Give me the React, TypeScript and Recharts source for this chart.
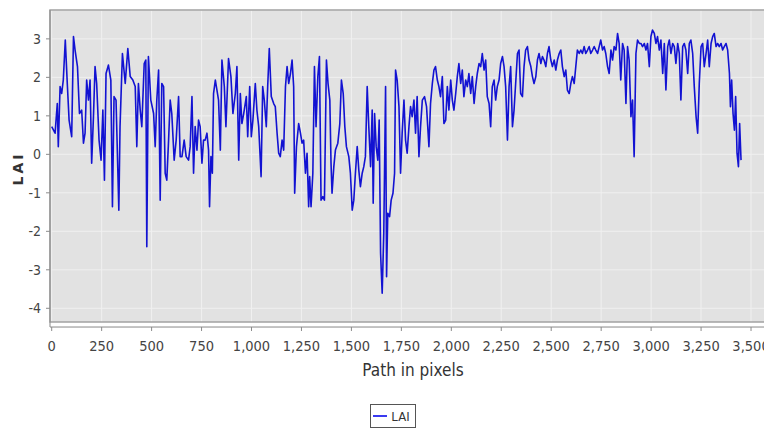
import {
  LineChart,
  Line,
  XAxis,
  YAxis,
  CartesianGrid,
  ReferenceArea,
  Legend,
} from "recharts";

// distance along the path (pixels) and the LAI value sampled there
const pathPx = [
  0, 17, 28, 33, 42, 50, 58, 68, 78, 87,
  100, 109, 117, 129, 139, 150, 159, 167, 175, 184,
  192, 200, 209, 217, 225, 237, 247, 256, 264, 272,
  284, 296, 304, 312, 322, 336, 342, 354, 368, 381,
  393, 406, 418, 426, 434, 443, 451, 463, 471, 476,
  484, 496, 510, 518, 526, 535,
  543, 551, 560, 568, 576, 585, 593, 601, 613, 623,
  635, 643, 652, 663, 673, 685, 693, 702, 710, 718,
  727, 735, 743, 752, 760, 768, 777, 785, 790, 797,
  804, 810, 819, 827, 835, 844, 852, 864, 872, 885,
  897, 907, 919, 927, 936, 944, 952, 961, 974, 981,
  991, 999, 1007, 1019, 1027, 1036, 1048, 1056, 1064, 1074,
  1081, 1089, 1099, 1111, 1119, 1128, 1136,
  1144, 1153, 1161, 1170, 1178, 1186, 1195, 1203, 1211, 1216,
  1225, 1236, 1245, 1253, 1261, 1270, 1278, 1286, 1291, 1298,
  1307, 1315, 1323, 1332, 1340, 1348, 1357, 1365, 1375, 1383,
  1392, 1398, 1403, 1412, 1420, 1432, 1442, 1450, 1459, 1467,
  1475, 1487, 1495, 1504, 1512, 1520, 1529, 1537, 1545, 1554,
  1562, 1570, 1579, 1587, 1596, 1604, 1609, 1616, 1624, 1632,
  1639, 1646, 1654, 1662, 1671, 1676, 1682, 1691, 1699, 1708,
  1716, 1721, 1729, 1738,
  1746, 1754, 1763, 1771, 1779, 1788, 1796, 1804, 1813, 1821,
  1829, 1838, 1846, 1855, 1866, 1876, 1888, 1896, 1905, 1913,
  1921, 1930, 1938, 1946, 1955, 1963, 1972, 1980, 1988, 1997,
  2005, 2013, 2022, 2030, 2038, 2047, 2055, 2063, 2072, 2080,
  2088, 2097, 2105, 2114, 2122, 2130, 2139, 2147, 2155, 2164,
  2172, 2180, 2189, 2197, 2205, 2214, 2222, 2230, 2239, 2247,
  2256, 2264, 2272, 2281, 2289, 2297, 2306, 2314, 2322, 2331,
  2339,
  2347, 2356, 2364, 2372, 2381, 2389, 2398, 2406, 2414, 2423,
  2431, 2439, 2448, 2456, 2464, 2473, 2481, 2489, 2498, 2506,
  2515, 2523, 2531, 2540, 2548, 2556, 2565, 2573, 2581, 2590,
  2598, 2606, 2615, 2623, 2631, 2640, 2648, 2656, 2665, 2673,
  2682, 2690, 2698, 2707, 2715, 2723, 2732, 2740, 2748, 2757,
  2765, 2773, 2782, 2790, 2799, 2807, 2815, 2824, 2832, 2840,
  2848, 2857, 2865, 2874, 2882, 2890, 2899, 2907, 2915, 2924,
  2932, 2941,
  2949, 2957, 2966, 2974, 2982, 2991, 2999, 3007, 3016, 3024,
  3032, 3041, 3049, 3058, 3066, 3074, 3083, 3091, 3099, 3108,
  3116, 3124, 3133, 3141, 3149, 3158, 3166, 3174, 3183, 3191,
  3199, 3208, 3216, 3225, 3233, 3241, 3250, 3258, 3266, 3275,
  3283, 3291, 3300, 3308, 3316, 3325, 3333, 3341, 3350, 3358,
  3366, 3375, 3383, 3392, 3397, 3403, 3410, 3417, 3423, 3430,
  3437, 3443, 3450,
];

const lai = [
  0.72, 0.55, 1.32, 0.2, 1.76, 1.58, 1.93, 2.97, 1.84, 0.89,
  0.46, 3.06, 2.71, 2.28, 1.06, 1.15, 0.29, 0.55, 1.93, 1.41,
  1.93, -0.23, 0.98, 2.28, 1.84, 0.37, -0.15, 1.15, -0.67, 2.1,
  2.32, 1.93, -1.36, 1.5, 1.41, -1.45, 0.72, 2.62, 1.84, 2.75,
  2.02, 1.93, 1.76, 0.2, 1.84, 1.15, 0.72, 2.36, 2.45, -2.4,
  2.54, 1.41, 1.06, 0.2, 1.41, 2.19,
  -1.19, 1.84, 1.76, -0.49, -0.67, 0.37, 1.41, 1.06, -0.15, 0.37,
  1.5, -0.06, -0.06, 0.37, -0.06, -0.15, 0.2, 1.5, -0.49, 0.72,
  0.11, 0.89, 0.72, -0.23, 0.37, 0.37, 0.55, 0.11, -1.36, -0.06,
  -0.49, 1.58, 1.93, 1.67, 1.41, 0.11, 2.45, 1.76, 0.72, 2.49,
  2.02, 1.06, 1.58, 2.28, -0.15, 1.58, 0.8, 1.06, 1.5, 0.46,
  1.76, 0.46, 0.89, 1.84, 1.15, 0.72, -0.58, 1.76, 1.41, 0.72,
  1.76, 2.75, 1.5, 1.32, 1.24, 0.55, 0.03,
  -0.06, 0.37, 0.11, 1.76, 2.28, 1.84, 2.1, 2.45, 1.76, -1.01,
  0.2, 0.8, 0.55, 0.29, 0.37, -0.49, 0.03, -1.36, -0.58, -1.36,
  -0.49, 2.28, 0.72, 2.02, 2.54, -1.19, -1.1, -1.19, 2.45, 1.84,
  1.41, -0.23, -1.01, -0.32, 0.11, 0.29, 0.8, 1.93, 1.58, 0.72,
  0.2, -0.06, -0.49, -1.45, -1.19, -0.49, 0.2, -0.41, -0.84, -0.49,
  -0.32, -0.06, 1.76, 0.72, -0.32, 1.15, -1.27, 1.06, 0.2, -0.15,
  0.89, -2.57, -3.61, -2.05, 1.76, -3.18, -1.53, -1.62, -1.19, -1.01,
  -0.49, 2.19, 1.93, 1.24,
  -0.49, 0.55, 1.41, 0.37, 0.03, 0.72, 1.24, 0.98, 1.41, 0.55,
  1.5, -0.06, 0.72, 1.41, 1.5, 1.24, 0.2, 1.32, 1.84, 2.19,
  2.28, 1.93, 1.76, 1.5, 2.02, 0.8, 0.89, 1.76, 1.15, 1.93,
  1.41, 1.15, 1.58, 2.02, 2.36, 1.84, 2.19, 1.5, 1.93, 1.76,
  2.1, 1.58, 2.02, 1.32, 1.76, 2.1, 2.36, 2.28, 2.62, 2.19,
  2.45, 1.5, 1.32, 0.72, 1.76, 1.93, 1.41, 1.76, 1.93, 2.36,
  2.54, 2.28, 1.76, 0.37, 1.76, 2.28, 0.72, 1.15, 1.84, 2.62,
  2.71,
  1.58, 1.5, 2.28, 2.71, 2.8, 2.45, 2.28, 2.02, 1.84, 2.02,
  2.45, 2.62, 2.36, 2.54, 2.45, 2.28, 2.62, 2.8, 2.45, 2.28,
  2.45, 2.19, 2.45, 2.62, 2.71, 2.28, 2.02, 2.19, 1.67, 1.58,
  1.84, 2.02, 1.84, 2.28, 2.71, 2.62, 2.71, 2.62, 2.8, 2.62,
  2.71, 2.8, 2.62, 2.71, 2.8, 2.71, 2.62, 2.8, 2.97, 2.71,
  2.8, 2.62, 2.28, 2.1, 2.71, 2.45, 2.8, 2.71, 3.14, 2.88,
  1.93, 2.88, 2.71, 1.32, 2.8, 2.45, 0.98, 1.41, -0.06, 2.62,
  2.97, 2.88,
  2.88, 2.8, 2.88, 2.71, 2.88, 2.28, 3.06, 3.23, 3.14, 2.88,
  3.06, 2.71, 2.97, 2.1, 2.88, 1.67, 2.8, 2.97, 2.62, 2.88,
  2.8, 2.36, 2.88, 2.62, 1.41, 2.8, 2.88, 2.71, 2.1, 2.88,
  2.97, 2.62, 1.76, 0.98, 0.55, 1.84, 2.8, 2.88, 2.28, 2.62,
  2.97, 2.28, 2.88, 3.06, 3.14, 2.8, 2.88, 2.8, 2.88, 2.71,
  2.8, 2.88, 2.71, 2.1, 1.24, 1.93, 1.06, 0.63, 1.5, 0.03,
  -0.32, 0.8, -0.15,
];

const xTicks = [0, 250, 500, 750, 1000, 1250, 1500, 1750, 2000, 2250, 2500, 2750, 3000, 3250, 3500];
const yTicks = [-4, -3, -2, -1, 0, 1, 2, 3];

const data = pathPx.map((x, i) => ({ x, lai: lai[i] }));

const X_DOMAIN: [number, number] = [-8.5, 3625];
const Y_DOMAIN: [number, number] = [-4.486, 3.75];
// the plot frame stops a little above the x axis line
const FRAME_BOTTOM = -4.356;

const NARROW = "'Liberation Sans Narrow', 'DejaVu Sans Condensed', 'Arial Narrow', sans-serif";
const LINE_BLUE = "#1212d2";

const LegendBox = () => (
  <div style={{ display: "flex", justifyContent: "center" }}>
    <div
      style={{
        display: "flex",
        alignItems: "center",
        height: 24,
        boxSizing: "border-box",
        border: "1px solid #555",
        background: "#fff",
        padding: "0 5px 0 2px",
      }}
    >
      <span style={{ width: 14, height: 2, background: "#3a3af0", marginRight: 4 }} />
      <span style={{ fontFamily: NARROW, fontSize: 13, color: "#333" }}>LAI</span>
    </div>
  </div>
);

export default function App() {
  return (
    <div style={{ position: "absolute", left: 0, top: 0, width: 764, height: 429, overflow: "hidden", background: "#fff" }}>
      <LineChart width={778} height={429} data={data} margin={{ top: 10, right: 2, left: 10, bottom: 1 }}>
        <CartesianGrid fill="#e2e2e2" fillOpacity={1} stroke="#f0f0f0" strokeWidth={1} />
        <ReferenceArea
          x1={X_DOMAIN[0]}
          x2={X_DOMAIN[1]}
          y1={Y_DOMAIN[0]}
          y2={FRAME_BOTTOM}
          fill="#fff"
          fillOpacity={1}
          stroke="none"
        />
        <ReferenceArea
          x1={X_DOMAIN[0]}
          x2={X_DOMAIN[1]}
          y1={FRAME_BOTTOM}
          y2={Y_DOMAIN[1]}
          fill="none"
          stroke="#a3a3a3"
          strokeWidth={1.5}
        />
        <XAxis
          dataKey="x"
          type="number"
          domain={X_DOMAIN}
          ticks={xTicks}
          allowDataOverflow
          height={77}
          tickSize={4}
          tickMargin={10}
          stroke="#8c8c8c"
          tick={{ fill: "#444", fontSize: 14.5, fontFamily: NARROW }}
          tickFormatter={(v: number) => v.toLocaleString("en-US")}
          label={{
            content: ({ viewBox }: any) => (
              <text
                x={viewBox.x + viewBox.width / 2}
                y={viewBox.y + 49}
                textAnchor="middle"
                fill="#333"
                fontSize={17}
                fontFamily={NARROW}
              >
                Path in pixels
              </text>
            ),
          }}
        />
        <YAxis
          type="number"
          domain={Y_DOMAIN}
          ticks={yTicks}
          allowDataOverflow
          width={40}
          tickSize={4}
          tickMargin={5}
          stroke="#8c8c8c"
          tick={{ fill: "#444", fontSize: 14, fontFamily: NARROW }}
          label={{
            content: ({ viewBox }: any) => {
              const cx = viewBox.x + 8;
              const cy = viewBox.y + viewBox.height / 2;
              return (
                <text
                  x={cx}
                  y={cy}
                  transform={`rotate(-90 ${cx} ${cy})`}
                  textAnchor="middle"
                  dominantBaseline="central"
                  fill="#333"
                  fontSize={14}
                  fontWeight="bold"
                  letterSpacing={3}
                  fontFamily="'DejaVu Sans', sans-serif"
                >
                  LAI
                </text>
              );
            },
          }}
        />
        <Legend verticalAlign="bottom" content={() => <LegendBox />} />
        <Line
          type="linear"
          dataKey="lai"
          name="LAI"
          stroke={LINE_BLUE}
          strokeWidth={1.6}
          strokeLinejoin="round"
          dot={false}
          isAnimationActive={false}
        />
      </LineChart>
    </div>
  );
}
